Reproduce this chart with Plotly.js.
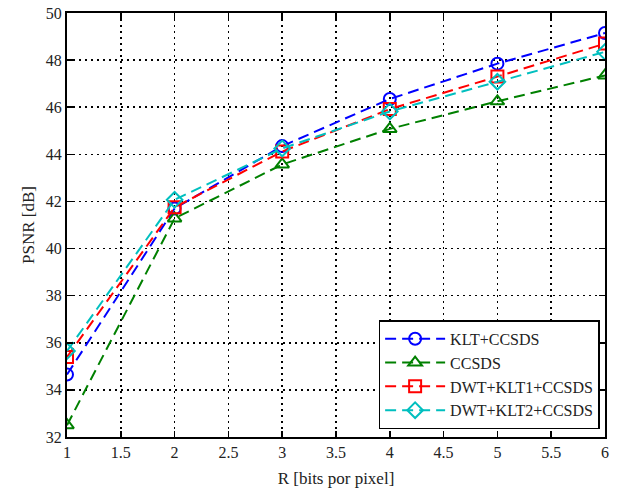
<!DOCTYPE html>
<html>
<head>
<meta charset="utf-8">
<script src="https://cdn.plot.ly/plotly-3.0.1.min.js"></script>
<style>html,body{margin:0;padding:0;background:#fff;}#chart{width:623px;height:490px;}</style>
</head>
<body>
<div id="chart"></div>
<script>
const rates = [1, 2, 3, 4, 5, 6];
const kltCcsds = [34.65, 41.7, 44.35, 46.35, 47.85, 49.15];
const ccsds = [32.5, 41.28, 43.57, 45.08, 46.25, 47.35];
const dwtKlt1 = [35.4, 41.75, 44.12, 45.92, 47.3, 48.7];
const dwtKlt2 = [35.65, 42.07, 44.25, 45.82, 47.08, 48.35];
const names = ['KLT+CCSDS', 'CCSDS', 'DWT+KLT1+CCSDS', 'DWT+KLT2+CCSDS'];
const xTicks = [1, 1.5, 2, 2.5, 3, 3.5, 4, 4.5, 5, 5.5, 6];
const yTicks = [32, 34, 36, 38, 40, 42, 44, 46, 48, 50];

const series = [kltCcsds, ccsds, dwtKlt1, dwtKlt2];
const colors = ['#0000ff', '#008000', '#ff0000', '#00bfbf'];
const symbols = ['circle-open', 'triangle-up-open', 'square-open', 'diamond-open'];

const traces = series.map((ys, i) => ({
  x: rates, y: ys, name: names[i], type: 'scatter', mode: 'lines+markers',
  line: {color: colors[i], width: 2, dash: '11px,6px'},
  marker: {symbol: symbols[i], size: 12, color: colors[i], line: {width: 2, color: colors[i]}}
}));

const fam = '"Times New Roman", "Liberation Serif", "DejaVu Serif", serif';
const font = {family: fam, size: 16, color: '#222'};
const axisCommon = {
  showline: true, linecolor: '#000', linewidth: 2, mirror: 'ticks',
  ticks: 'inside', ticklen: 6, tickcolor: '#000', tickwidth: 1.5,
  showgrid: true, gridcolor: '#000', gridwidth: 1.5, griddash: '2px,4px',
  zeroline: false, tickfont: font
};
const layout = {
  width: 623, height: 490,
  margin: {l: 67, r: 18, t: 13, b: 53},
  paper_bgcolor: '#fff', plot_bgcolor: '#fff',
  font: font,
  showlegend: true,
  xaxis: Object.assign({}, axisCommon, {
    range: [1, 6], tickvals: xTicks, ticktext: xTicks.map(String),
    title: {text: 'R [bits por pixel]', font: {family: fam, size: 17, color: '#222'}, standoff: 12}
  }),
  yaxis: Object.assign({}, axisCommon, {
    range: [32, 50], tickvals: yTicks, ticktext: yTicks.map(String),
    title: {text: 'PSNR [dB]', font: {family: fam, size: 17, color: '#222'}, standoff: 7}
  }),
  legend: {
    x: 0.99, xanchor: 'right', y: 0.018, yanchor: 'bottom',
    bgcolor: '#fff', bordercolor: '#000', borderwidth: 1.5,
    font: {family: fam, size: 16, color: '#222'},
    tracegroupgap: 0, itemwidth: 60
  }
};
Plotly.newPlot('chart', traces, layout, {displayModeBar: false, staticPlot: true});
</script>
</body>
</html>
